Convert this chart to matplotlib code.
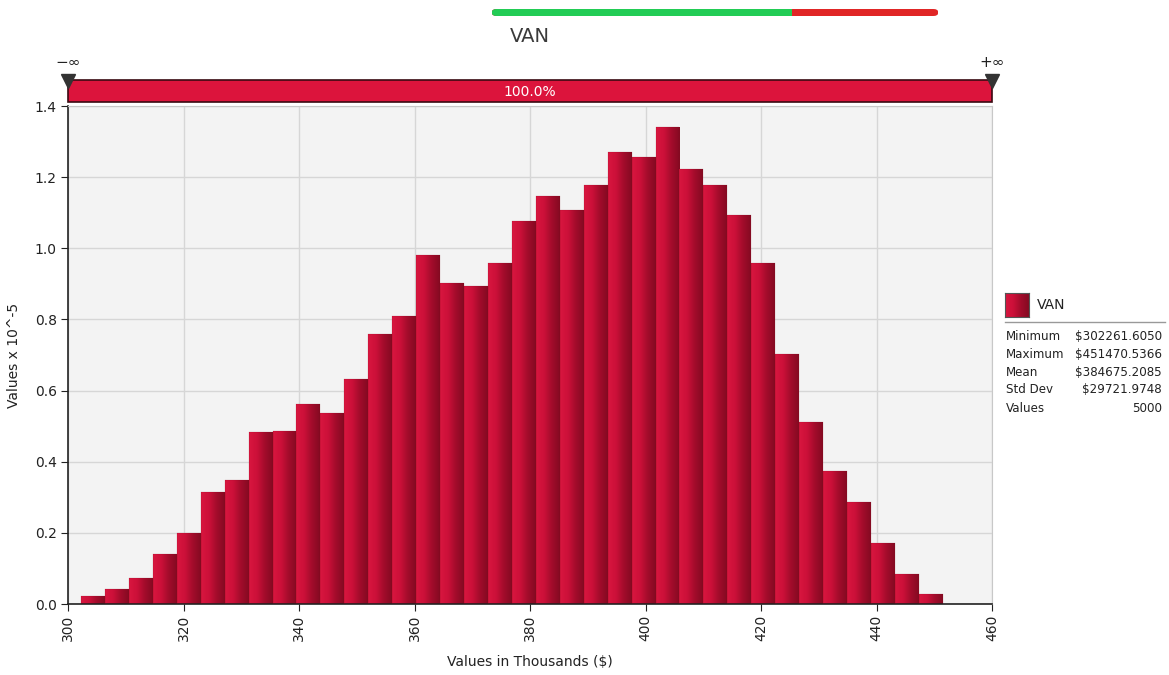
import numpy as np
import matplotlib
matplotlib.use("Agg")
import matplotlib.pyplot as plt
from matplotlib.patches import Rectangle, FancyBboxPatch
from matplotlib.colors import LinearSegmentedColormap

# Simulation summary (values in dollars)
series_name = "VAN"
stat_labels = ["Minimum", "Maximum", "Mean", "Std Dev", "Values"]
stat_values = ["$302261.6050", "$451470.5366", "$384675.2085", "$29721.9748", "5000"]
x_min_k = 302.2616050
x_max_k = 451.4705366

# Probability density per bin (x 10^-5)
density = [0.022, 0.042, 0.073, 0.140, 0.200, 0.315, 0.350, 0.483, 0.487,
           0.562, 0.537, 0.633, 0.760, 0.810, 0.980, 0.902, 0.895, 0.960,
           1.077, 1.148, 1.108, 1.178, 1.270, 1.257, 1.340, 1.223, 1.178,
           1.094, 0.960, 0.703, 0.512, 0.374, 0.287, 0.172, 0.085, 0.028]

x_ticks = [300, 320, 340, 360, 380, 400, 420, 440, 460]
y_ticks = [0.0, 0.2, 0.4, 0.6, 0.8, 1.0, 1.2, 1.4]

W, H = 1169, 675
fig = plt.figure(figsize=(W / 100, H / 100), dpi=100)
fig.patch.set_facecolor("white")

def fx(px):
    return px / W

def fy(py):
    return 1 - py / H

# Main histogram axes
ax = fig.add_axes([fx(68), fy(604), fx(992) - fx(68), fy(106) - fy(604)])
ax.set_facecolor("#f3f3f3")
ax.set_xlim(300, 460)
ax.set_ylim(0, 1.4)
ax.set_xticks(x_ticks)
ax.set_yticks(y_ticks)
ax.set_xticklabels([str(t) for t in x_ticks], rotation=90, fontsize=10, color="#222222")
ax.set_yticklabels([f"{t:.1f}" for t in y_ticks], fontsize=10, color="#222222")
ax.grid(True, color="#d6d6d6", linewidth=1.0)
ax.set_axisbelow(True)
for side in ["top", "right"]:
    ax.spines[side].set_color("#c8c8c8")
    ax.spines[side].set_linewidth(0.8)
for side in ["left", "bottom"]:
    ax.spines[side].set_color("#222222")
    ax.spines[side].set_linewidth(1.2)
ax.tick_params(axis="both", direction="out", length=5, color="#222222", pad=3)

ax.set_xlabel("Values in Thousands ($)", fontsize=10, color="#222222", labelpad=10)
ax.set_ylabel("Values x 10^-5", fontsize=10, color="#222222", labelpad=10)

edges = np.linspace(x_min_k, x_max_k, len(density) + 1)
widths = np.diff(edges)
bars = ax.bar(edges[:-1], density, width=widths, align="edge",
              color="none", edgecolor="none", zorder=2)

cmap = LinearSegmentedColormap.from_list(
    "crimson", ["#d8163f", "#cc1039", "#a20c2b", "#850a22"])
grad = np.linspace(0, 1, 64).reshape(1, -1)
for rect, x0, w, h in zip(bars, edges[:-1], widths, density):
    im = ax.imshow(grad, cmap=cmap, aspect="auto", interpolation="bicubic",
                   extent=(x0, x0 + w, 0, h), zorder=2)
    im.set_clip_path(rect)
    ax.add_patch(Rectangle((x0, 0), w, h, facecolor="none",
                           edgecolor="#7a0a1e", linewidth=0.3, alpha=0.35, zorder=3))
ax.set_xlim(300, 460)
ax.set_ylim(0, 1.4)

# Range bar above the plot
bar_ax = fig.add_axes([fx(68), fy(102), fx(992) - fx(68), fy(80) - fy(102)])
bar_ax.set_xlim(300, 460)
bar_ax.set_ylim(0, 1)
bar_ax.axis("off")
bar_ax.add_patch(Rectangle((300, 0), 160, 1, facecolor="#dc143c",
                           edgecolor="#3a0a12", linewidth=1.2, clip_on=False))
bar_ax.text(380, 0.45, "100.0%", color="white", fontsize=10, ha="center", va="center")

for xv, lab in [(300, "\u2212\u221e"), (460, "+\u221e")]:
    bar_ax.plot([xv], [0.95], marker="v", markersize=10, color="#333333",
                clip_on=False, zorder=5)
    bar_ax.text(xv, 1.45, lab, fontsize=11, ha="center", va="bottom", color="#222222")

# Title
fig.text(fx(530), fy(37), series_name, fontsize=14, ha="center", va="center",
         color="#3a3a3a")

# Slider strip at the top
strip_y = fy(16)
strip_h = fy(9) - fy(16)
fig.patches.append(FancyBboxPatch((fx(492), strip_y), fx(938) - fx(492), strip_h,
                                  boxstyle="round,pad=0,rounding_size=0.004",
                                  transform=fig.transFigure, facecolor="#e02626",
                                  edgecolor="none"))
fig.patches.append(FancyBboxPatch((fx(492), strip_y), fx(792) - fx(492), strip_h,
                                  boxstyle="round,pad=0,rounding_size=0.004",
                                  transform=fig.transFigure, facecolor="#22cc55",
                                  edgecolor="none"))
fig.patches.append(Rectangle((fx(780), strip_y), fx(792) - fx(780), strip_h,
                             transform=fig.transFigure, facecolor="#22cc55",
                             edgecolor="none"))

# Legend and statistics panel
sw = fig.add_axes([fx(1005), fy(317), fx(1029) - fx(1005), fy(293) - fy(317)])
sw.set_xticks([])
sw.set_yticks([])
sw.imshow(grad, cmap=cmap, aspect="auto", extent=(0, 1, 0, 1))
for s in sw.spines.values():
    s.set_color("#555555")
    s.set_linewidth(0.8)
fig.text(fx(1037), fy(305), series_name, fontsize=10, ha="left", va="center",
         color="#222222")
fig.add_artist(plt.Line2D([fx(1005), fx(1165)], [fy(322), fy(322)],
                          transform=fig.transFigure, color="#999999", linewidth=1))
row_y = [337, 354.5, 372, 390, 408]
for lab, val, py in zip(stat_labels, stat_values, row_y):
    fig.text(fx(1006), fy(py), lab, fontsize=8.6, ha="left", va="center", color="#222222")
    fig.text(fx(1162), fy(py), val, fontsize=8.6, ha="right", va="center", color="#222222")

fig.savefig("out.png", dpi=100, facecolor="white")
